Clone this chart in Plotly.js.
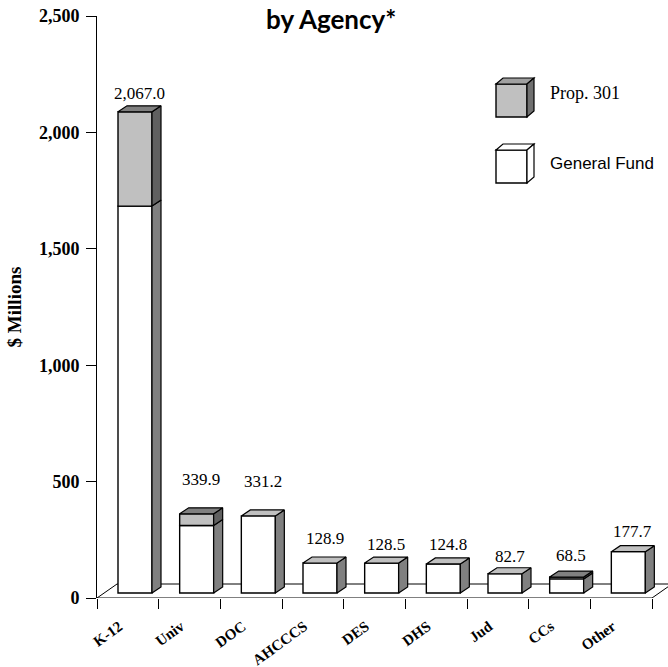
<!DOCTYPE html>
<html>
<head>
<meta charset="utf-8">
<script src="https://cdn.plot.ly/plotly-3.0.1.min.js"></script>
<style>html,body{margin:0;padding:0;background:#fff;}#chart{width:668px;height:667px;}</style>
</head>
<body>
<div id="chart"></div>
<script>
// ---- data ----
const categories = ['K-12', 'Univ', 'DOC', 'AHCCCS', 'DES', 'DHS', 'Jud', 'CCs', 'Other'];
const generalFund = [1662.0, 290.0, 331.2, 128.9, 128.5, 124.8, 82.7, 60.5, 177.7];
const prop301 = [405.0, 49.9, 0, 0, 0, 0, 0, 8.0, 0];
const totalLabels = ['2,067.0', '339.9', '331.2', '128.9', '128.5', '124.8', '82.7', '68.5', '177.7'];
const yTickValues = [0, 500, 1000, 1500, 2000, 2500];
const seriesNames = ['Prop. 301', 'General Fund'];

// ---- geometry / style (pixels) ----
const W = 668, H = 667;
const plotL = 97, plotR = 668, plotT = 16, plotB = 598;
const catPx = (652 - 97) / 9;
const yMax = 2500;
const pxPerUnit = (plotB - plotT) / yMax;
const ux = px => px / catPx;
const uy = px => px / pxPerUnit;
const barOffset = ux(21), barWidth = ux(34);
const baseU = uy(5);
const depthX = ux(9), depthY = uy(6);
const floorX = ux(20), floorY = uy(14);
const labelShift = [1, 17, 17, 7, 1, 2, 0, 4, 3];
const xMaxU = (plotR - plotL) / catPx;
const SERIF = "'Liberation Serif', 'Times New Roman', Times, serif";
const SANS = "'Liberation Sans', Arial, Helvetica, sans-serif";

const centers = categories.map((c, i) => i + barOffset + barWidth / 2);

const traces = [];
traces.push({
  type: 'bar', name: seriesNames[1], x: centers, y: generalFund,
  base: generalFund.map(() => baseU), width: barWidth,
  marker: {color: '#ffffff', line: {color: '#000000', width: 1.4}},
  hoverinfo: 'skip', showlegend: false
});
traces.push({
  type: 'bar', name: seriesNames[0], x: centers, y: prop301.map(v => v > 0 ? v : null),
  base: generalFund.map(v => baseU + v), width: barWidth,
  marker: {color: '#c0c0c0', line: {color: '#000000', width: 1.4}},
  hoverinfo: 'skip', showlegend: false
});

function poly(xs, ys, pts) { pts.forEach(p => { xs.push(p[0]); ys.push(p[1]); }); xs.push(pts[0][0]); ys.push(pts[0][1]); xs.push(null); ys.push(null); }
const sGF = {x: [], y: []}, sP = {x: [], y: []}, tGF = {x: [], y: []}, tP = {x: [], y: []};
categories.forEach((c, i) => {
  const xl = i + barOffset, xr = xl + barWidth;
  const b = baseU, g = baseU + generalFund[i], t = g + prop301[i];
  poly(sGF.x, sGF.y, [[xr, b], [xr + depthX, b + depthY], [xr + depthX, g + depthY], [xr, g]]);
  if (prop301[i] > 0) {
    poly(sP.x, sP.y, [[xr, g], [xr + depthX, g + depthY], [xr + depthX, t + depthY], [xr, t]]);
    poly(tP.x, tP.y, [[xl, t], [xl + depthX, t + depthY], [xr + depthX, t + depthY], [xr, t]]);
  } else {
    poly(tGF.x, tGF.y, [[xl, t], [xl + depthX, t + depthY], [xr + depthX, t + depthY], [xr, t]]);
  }
});
[[sGF, '#808080'], [sP, '#606060'], [tGF, '#c0c0c0'], [tP, '#808080']].forEach(([d, col]) => {
  traces.push({type: 'scatter', mode: 'lines', x: d.x, y: d.y, fill: 'toself', fillcolor: col,
    line: {color: '#000000', width: 1.2}, hoverinfo: 'skip', showlegend: false});
});

// helper: pixel -> paper
const PX = px => (px - plotL) / (plotR - plotL);
const PY = py => (plotB - py) / (plotB - plotT);

const shapes = [];
const lineStyle = {color: '#000000', width: 1};
// floor
shapes.push({type: 'line', xref: 'x', yref: 'y', x0: 0, y0: 0, x1: 9, y1: 0, line: lineStyle, layer: 'below'});
shapes.push({type: 'line', xref: 'x', yref: 'y', x0: 0, y0: 0, x1: floorX, y1: floorY, line: lineStyle, layer: 'below'});
shapes.push({type: 'line', xref: 'x', yref: 'y', x0: floorX, y0: floorY, x1: 9 + floorX, y1: floorY, line: lineStyle, layer: 'below'});
shapes.push({type: 'line', xref: 'x', yref: 'y', x0: 9, y0: 0, x1: 9 + floorX, y1: floorY, line: lineStyle, layer: 'below'});

// legend boxes
function boxPath(pts) { return 'M' + pts.map(p => PX(p[0]) + ',' + PY(p[1])).join(' L') + ' Z'; }
function legendBox(x, y, w, h, dx, dy, front, top, side) {
  shapes.push({type: 'path', xref: 'paper', yref: 'paper', path: boxPath([[x, y], [x + w, y], [x + w, y + h], [x, y + h]]), fillcolor: front, line: {color: '#000', width: 1.4}});
  shapes.push({type: 'path', xref: 'paper', yref: 'paper', path: boxPath([[x, y], [x + dx, y - dy], [x + w + dx, y - dy], [x + w, y]]), fillcolor: top, line: {color: '#000', width: 1.2}});
  shapes.push({type: 'path', xref: 'paper', yref: 'paper', path: boxPath([[x + w, y], [x + w + dx, y - dy], [x + w + dx, y + h - dy], [x + w, y + h]]), fillcolor: side, line: {color: '#000', width: 1.2}});
}
legendBox(496, 84, 31, 33, 7, 6, '#c0c0c0', '#a0a0a0', '#707070');
legendBox(496, 150, 31, 33, 7, 6, '#ffffff', '#ffffff', '#ffffff');

const annotations = [];
annotations.push({xref: 'paper', yref: 'paper', x: PX(548), y: PY(93), xanchor: 'left', yanchor: 'middle', showarrow: false,
  text: seriesNames[0], font: {family: SERIF, size: 18, color: '#000'}});
annotations.push({xref: 'paper', yref: 'paper', x: PX(548), y: PY(163), xanchor: 'left', yanchor: 'middle', showarrow: false,
  text: seriesNames[1], font: {family: SANS, size: 17, color: '#000'}});
// title (top line is above the picture, as in the reference)
annotations.push({xref: 'paper', yref: 'paper', x: PX(331), y: PY(1), xanchor: 'center', yanchor: 'top', showarrow: false,
  text: '<b>by Agency*</b>', font: {family: 'Lato, "Open Sans", sans-serif', size: 26, color: '#000'}});
// value labels
categories.forEach((c, i) => {
  annotations.push({xref: 'x', yref: 'y', x: centers[i] + depthX / 2, y: baseU + generalFund[i] + prop301[i] + depthY,
    xanchor: 'center', yanchor: 'bottom', yshift: labelShift[i], showarrow: false, text: totalLabels[i],
    font: {family: SERIF, size: 17, color: '#000'}});
});

const tickFont = {family: SERIF, size: 18, color: '#000', weight: 'bold'};
// dummy trace on xaxis2 to show category labels
traces.push({type: 'scatter', mode: 'none', x: [0, xMaxU], y: [0, 0], xaxis: 'x2', yaxis: 'y', hoverinfo: 'skip', showlegend: false});

const layout = {
  width: W, height: H,
  margin: {l: plotL, r: W - plotR, t: plotT, b: H - plotB},
  paper_bgcolor: '#ffffff', plot_bgcolor: '#ffffff',
  showlegend: false, barmode: 'overlay',
  xaxis: {range: [0, xMaxU], tickvals: categories.map((c, i) => i).concat([9]), ticks: 'outside', ticklen: 10,
    tickcolor: '#000', tickwidth: 1, showticklabels: false, showline: false, showgrid: false, zeroline: false, fixedrange: true},
  xaxis2: {overlaying: 'x', anchor: 'y', side: 'bottom', range: [0, xMaxU], tickvals: categories.map((c, i) => i + 0.36),
    ticktext: categories, tickangle: -36, ticks: '', showline: false, showgrid: false, zeroline: false,
    tickfont: {family: SERIF, size: 15, color: '#000', weight: 'bold'}, ticklabelstandoff: 16},
  yaxis: {range: [0, yMax], tickvals: yTickValues, tickformat: ',', ticks: 'outside', ticklen: 10, tickcolor: '#000',
    showline: true, linecolor: '#000', linewidth: 1, showgrid: false, zeroline: false, tickfont: tickFont, ticklabelstandoff: 3,
    title: {text: '<b>$ Millions</b>', font: {family: SERIF, size: 19, color: '#000'}, standoff: 12}},
  shapes: shapes, annotations: annotations
};

Plotly.newPlot('chart', traces, layout, {displayModeBar: false, staticPlot: true});
</script>
</body>
</html>
